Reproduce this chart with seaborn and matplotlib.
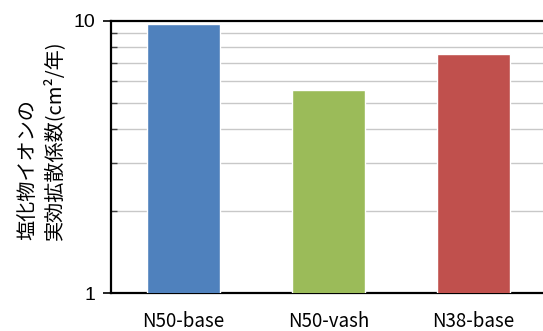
import matplotlib
matplotlib.use("Agg")
import matplotlib.pyplot as plt
import seaborn as sns
import pandas as pd
from matplotlib.ticker import LogLocator, FixedLocator, NullFormatter

# Effective chloride-ion diffusion coefficients per mix
samples = ["N50-base", "N50-vash", "N38-base"]
coefficients = [9.7, 5.55, 7.55]
bar_colors = ["#4F81BD", "#9BBB59", "#C0504D"]

sns.set_theme(style="white")
plt.rcParams["font.family"] = ["Noto Sans CJK JP", "DejaVu Sans"]

df = pd.DataFrame({"sample": samples, "coef": coefficients})

fig = plt.figure(figsize=(5.43, 3.31), dpi=100)
ax = fig.add_axes([0.2044, 0.1148, 0.801, 0.8232])

sns.barplot(data=df, x="sample", y="coef", hue="sample", palette=bar_colors,
            width=0.5, legend=False, saturation=1, ax=ax, zorder=3)

ax.set_yscale("log")
ax.set_ylim(1, 10)
ax.set_xlim(-0.5, 2.5)

ax.yaxis.set_major_locator(FixedLocator([1, 10]))
ax.set_yticklabels(["1", "10"], fontsize=14, family=["Liberation Sans", "DejaVu Sans"])
ax.yaxis.set_minor_locator(LogLocator(base=10, subs=range(2, 10)))
ax.yaxis.set_minor_formatter(NullFormatter())
ax.grid(True, which="minor", axis="y", color="#C8C8C8", linewidth=1.0, zorder=0)

ax.tick_params(axis="y", which="major", direction="out", length=6, width=1.2,
               color="black", pad=5, labelcolor="black", left=True)
ax.tick_params(axis="y", which="minor", direction="in", length=4, width=1.0,
               color="#404040", left=True)
ax.tick_params(axis="x", which="both", length=0, pad=13, labelsize=13.5,
               labelcolor="black")

for side in ("left", "bottom", "top"):
    ax.spines[side].set_visible(True)
    ax.spines[side].set_color("black")
    ax.spines[side].set_linewidth(1.6)
ax.spines["right"].set_visible(False)

ax.set_xlabel("")
ax.set_ylabel("")
fig.text(0.076, 0.275, "塩化物イオンの\n実効拡散係数(cm²/年)", fontsize=14.5,
         rotation=90, ha="center", va="bottom", multialignment="left",
         linespacing=1.3, color="black")

fig.savefig("out.png", dpi=100)
